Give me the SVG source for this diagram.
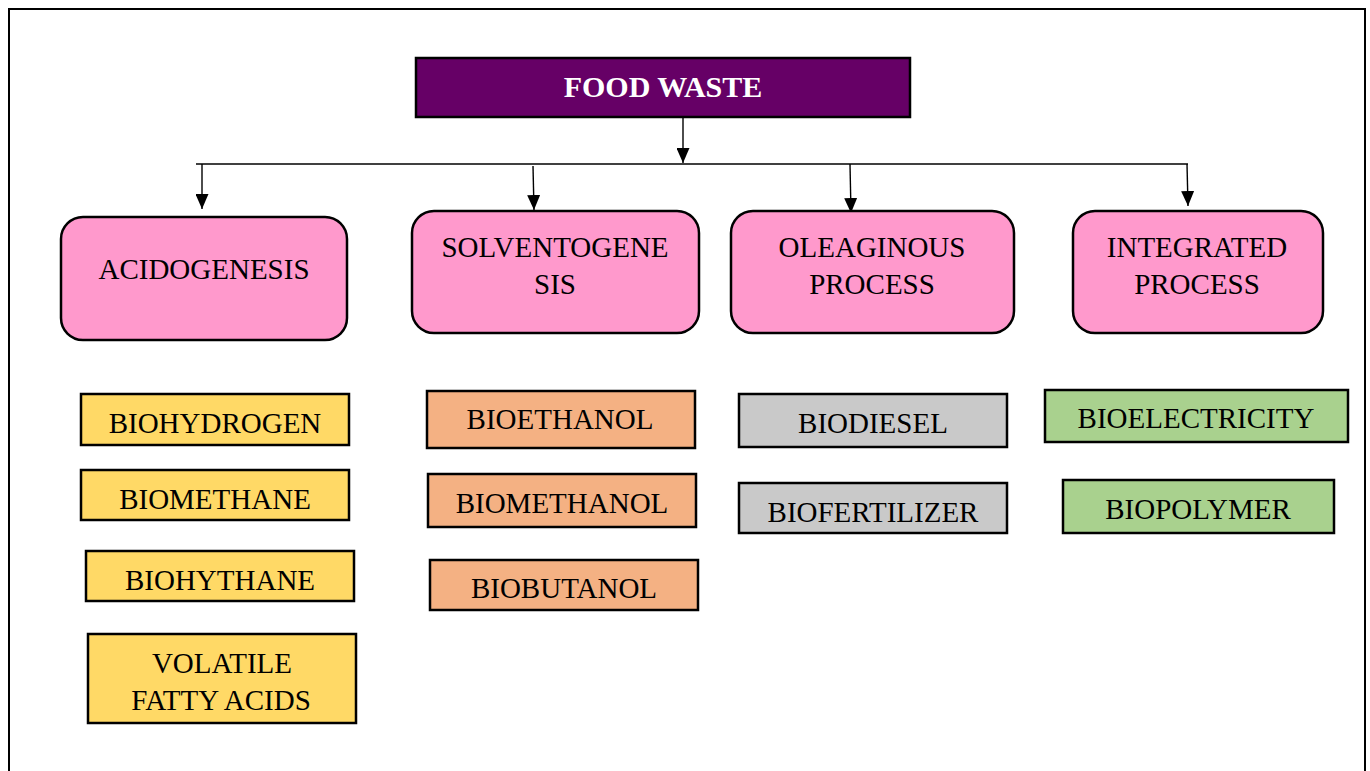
<svg xmlns="http://www.w3.org/2000/svg" width="1370" height="771" viewBox="0 0 1370 771">
<style>
text{font-family:"Liberation Serif","Times New Roman",serif;font-size:29px;fill:#000;text-anchor:middle}
.box{stroke:#000;stroke-width:2.5}
.proc{fill:#FF99CC}
.y{fill:#FFD966}
.o{fill:#F4B183}
.g{fill:#C9C9C9}
.gr{fill:#A9D18E}
.conn line{stroke:#000;stroke-width:1.4;fill:none}
</style>
<defs>
<marker id="a" viewBox="0 0 15 13" refX="15" refY="6.5" markerWidth="15" markerHeight="13" markerUnits="userSpaceOnUse" orient="auto">
<path d="M0,0 L15,6.5 L0,13 Z" fill="#000"/>
</marker>
</defs>
<rect x="9" y="9" width="1356" height="780" fill="#fff" stroke="#000" stroke-width="2"/>
<g class="conn">
<line x1="196" y1="164" x2="1188" y2="164"/>
<line x1="683" y1="117" x2="683" y2="163" marker-end="url(#a)"/>
<line x1="202" y1="164" x2="202" y2="209" marker-end="url(#a)"/>
<line x1="533" y1="166" x2="534" y2="210" marker-end="url(#a)"/>
<line x1="850" y1="164" x2="851" y2="213" marker-end="url(#a)"/>
<line x1="1187" y1="164" x2="1188" y2="206" marker-end="url(#a)"/>
</g>
<g id="food-waste">
<rect class="box" x="416" y="58" width="494" height="59" fill="#660066"/>
<text x="663" y="97" style="fill:#fff;font-weight:bold;font-size:30px">FOOD WASTE</text>
</g>
<g id="acidogenesis">
<rect class="box proc" x="61" y="217" width="286" height="123" rx="22"/>
<text x="204" y="279">ACIDOGENESIS</text>
</g>
<g id="solventogenesis">
<rect class="box proc" x="412" y="211" width="287" height="122" rx="22"/>
<text x="555" y="257">SOLVENTOGENE</text>
<text x="555" y="294">SIS</text>
</g>
<g id="oleaginous">
<rect class="box proc" x="731" y="211" width="283" height="122" rx="22"/>
<text x="872" y="257">OLEAGINOUS</text>
<text x="872" y="294">PROCESS</text>
</g>
<g id="integrated">
<rect class="box proc" x="1073" y="211" width="250" height="122" rx="22"/>
<text x="1197" y="257">INTEGRATED</text>
<text x="1197" y="294">PROCESS</text>
</g>
<g id="biohydrogen">
<rect class="box y" x="81" y="394" width="268" height="51"/>
<text x="215" y="433">BIOHYDROGEN</text>
</g>
<g id="biomethane">
<rect class="box y" x="81" y="470" width="268" height="50"/>
<text x="215" y="509">BIOMETHANE</text>
</g>
<g id="biohythane">
<rect class="box y" x="86" y="551" width="268" height="50"/>
<text x="220" y="590">BIOHYTHANE</text>
</g>
<g id="vfa">
<rect class="box y" x="88" y="634" width="268" height="89"/>
<text x="222" y="673">VOLATILE</text>
<text x="221" y="710">FATTY ACIDS</text>
</g>
<g id="bioethanol">
<rect class="box o" x="427" y="391" width="268" height="57"/>
<text x="560" y="429">BIOETHANOL</text>
</g>
<g id="biomethanol">
<rect class="box o" x="428" y="474" width="268" height="53"/>
<text x="562" y="513">BIOMETHANOL</text>
</g>
<g id="biobutanol">
<rect class="box o" x="430" y="560" width="268" height="50"/>
<text x="564" y="598">BIOBUTANOL</text>
</g>
<g id="biodiesel">
<rect class="box g" x="739" y="394" width="268" height="53"/>
<text x="873" y="433">BIODIESEL</text>
</g>
<g id="biofertilizer">
<rect class="box g" x="739" y="483" width="268" height="50"/>
<text x="873" y="522">BIOFERTILIZER</text>
</g>
<g id="bioelectricity">
<rect class="box gr" x="1045" y="390" width="303" height="52"/>
<text x="1196" y="428">BIOELECTRICITY</text>
</g>
<g id="biopolymer">
<rect class="box gr" x="1063" y="480" width="271" height="53"/>
<text x="1198" y="519">BIOPOLYMER</text>
</g>
</svg>
